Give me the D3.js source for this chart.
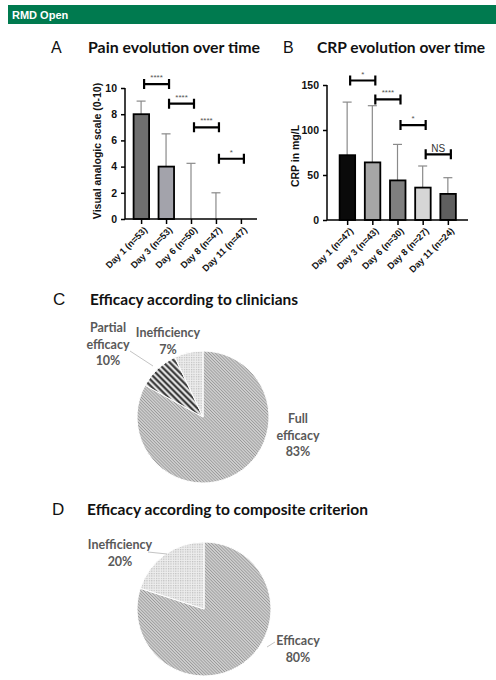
<!DOCTYPE html>
<html>
<head>
<meta charset="utf-8">
<script src="https://cdn.jsdelivr.net/npm/d3@7"></script>
<style>
  body { margin: 0; background: #fff; }
  .axis path, .axis line { stroke: #000; stroke-width: 1.5px; }
  .axis text { font-family: "Liberation Sans", Arial, sans-serif; font-weight: bold; fill: #111; }
</style>
</head>
<body>
<svg id="fig" width="496" height="680"></svg>
<script>
// ---- data ----
const painDays = ["Day 1 (n=53)", "Day 3 (n=53)", "Day 6 (n=50)", "Day 8 (n=47)", "Day 11 (n=47)"];
const painMedian = [8, 4, 0, 0, 0];
const painUpper = [9, 6.5, 4.25, 2, 0];
// brackets: from index, to index, height (VAS units), label
const painSig = [
    [0, 1, 10.3, "****"],
    [1, 2, 8.8, "****"],
    [2, 3, 7.0, "****"],
    [3, 4, 4.6, "*"]
];

const crpDays = ["Day 1 (n=47)", "Day 3 (n=43)", "Day 6 (n=30)", "Day 8 (n=27)", "Day 11 (n=24)"];
const crpMean = [72, 64, 44, 36, 29];
const crpUpper = [131, 127, 84, 60, 47];
const crpSig = [
    [0, 1, 155, "*"],
    [1, 2, 134, "****"],
    [2, 3, 105.5, "*"],
    [3, 4, 73, "NS"]
];

const clinLabels = ["Full efficacy", "Partial efficacy", "Inefficiency"];
const clinValues = [83, 10, 7];
const compLabels = ["Efficacy", "Inefficiency"];
const compValues = [80, 20];

// ---- styles ----
const painColors = ["#6e6e6e", "#a3a3ab", "#888", "#888", "#888"];
const crpColors = ["#0a0a0a", "#a6a6a6", "#7f7f7f", "#d6d6d6", "#5f5f5f"];

const svg = d3.select("#fig");
const titleFont = "Lato, 'Open Sans', sans-serif";
const axisFont = "'Liberation Sans', Arial, sans-serif";

// header band
svg.append("rect").attr("x", 8).attr("y", 5).attr("width", 488).attr("height", 19).attr("fill", "#007a4f");
svg.append("text").attr("x", 12).attr("y", 18.5)
    .attr("font-family", axisFont).attr("font-weight", "bold").attr("font-size", 11)
    .attr("fill", "#fff").text("RMD Open");

// patterns for the pies
const defs = svg.append("defs");
function linePattern(id, size, width, color, bg, angle) {
    const p = defs.append("pattern").attr("id", id)
        .attr("patternUnits", "userSpaceOnUse")
        .attr("width", size).attr("height", size)
        .attr("patternTransform", `rotate(${angle})`);
    p.append("rect").attr("width", size).attr("height", size).attr("fill", bg);
    p.append("line").attr("x1", size / 2).attr("x2", size / 2).attr("y1", 0).attr("y2", size)
        .attr("stroke", color).attr("stroke-width", width);
}
linePattern("fine", 2.2, 1.0, "#999", "#d9d9d9", -45);
linePattern("bold", 4.3, 2.0, "#2e2e2e", "#e6e6e6", -45);
const dots = defs.append("pattern").attr("id", "dots")
    .attr("patternUnits", "userSpaceOnUse").attr("width", 2.4).attr("height", 2.4);
dots.append("rect").attr("width", 2.4).attr("height", 2.4).attr("fill", "#ededed");
dots.append("rect").attr("width", 1.2).attr("height", 1.2).attr("fill", "#bdbdbd");

// panel titles
function panelTitle(letter, lx, tx, y, txt, size, len) {
    svg.append("text").attr("x", lx).attr("y", y)
        .attr("font-family", axisFont).attr("font-size", size + 1)
        .attr("fill", "#111").text(letter);
    svg.append("text").attr("x", tx).attr("y", y)
        .attr("font-family", titleFont).attr("font-weight", "bold").attr("font-size", size)
        .attr("fill", "#111")
        .attr("textLength", len).attr("lengthAdjust", "spacingAndGlyphs")
        .text(txt);
}
panelTitle("A", 51, 88, 53, "Pain evolution over time", 15, 172);
panelTitle("B", 283, 317, 53, "CRP evolution over time", 15, 168);
panelTitle("C", 53, 90, 305, "Efficacy according to clinicians", 16, 208);
panelTitle("D", 52, 87, 515, "Efficacy according to composite criterion", 16, 281);

// ---- bar charts ----
function barChart(cfg) {
    const x = d3.scalePoint().domain(cfg.days).range([cfg.x0, cfg.x1]).padding(cfg.pad);
    const y = d3.scaleLinear().domain([0, cfg.max]).range([cfg.y0, cfg.y1]);
    const g = svg.append("g");

    // error bars (upper only)
    cfg.days.forEach((d, i) => {
        if (cfg.upper[i] <= cfg.values[i]) return;
        g.append("line").attr("x1", x(d)).attr("x2", x(d))
            .attr("y1", y(cfg.values[i])).attr("y2", y(cfg.upper[i]))
            .attr("stroke", "#8a8a8a").attr("stroke-width", 1.2);
        g.append("line").attr("x1", x(d) - 4.5).attr("x2", x(d) + 4.5)
            .attr("y1", y(cfg.upper[i])).attr("y2", y(cfg.upper[i]))
            .attr("stroke", "#8a8a8a").attr("stroke-width", 1.2);
    });

    g.selectAll(".bar").data(cfg.days.filter((d, i) => cfg.values[i] > 0)).enter().append("rect")
        .attr("x", d => x(d) - 7.5)
        .attr("width", 15.5)
        .attr("y", d => y(cfg.values[cfg.days.indexOf(d)]))
        .attr("height", d => cfg.y0 - y(cfg.values[cfg.days.indexOf(d)]))
        .attr("fill", d => cfg.colors[cfg.days.indexOf(d)])
        .attr("stroke", "#000").attr("stroke-width", 1.8);

    const ya = g.append("g").attr("class", "axis")
        .attr("transform", `translate(${cfg.x0},0)`)
        .call(d3.axisLeft(y).tickValues(cfg.ticks).tickSize(4).tickSizeOuter(0));
    ya.selectAll("text").attr("font-size", 10.5).attr("dx", -1);
    ya.select(".domain").attr("d", `M0,${cfg.y0}V${cfg.y1}`);

    const xa = g.append("g").attr("class", "axis")
        .attr("transform", `translate(0,${cfg.y0})`)
        .call(d3.axisBottom(x).tickSize(5).tickSizeOuter(0));
    xa.select(".domain").attr("d", `M${cfg.x0},0H${cfg.x1}`);
    xa.selectAll("text")
        .attr("font-size", 9.2)
        .attr("text-anchor", "end")
        .attr("transform", "rotate(-45)")
        .attr("dx", "-0.4em").attr("dy", "0.5em");

    // y axis title
    g.append("text")
        .attr("transform", `translate(${cfg.labelX},${cfg.labelY}) rotate(-90)`)
        .attr("text-anchor", "middle")
        .attr("font-family", axisFont).attr("font-weight", "bold").attr("font-size", 10.5)
        .attr("fill", "#111").text(cfg.label);

    // significance brackets
    cfg.sig.forEach(([a, b, h, lab]) => {
        const xa1 = x(cfg.days[a]) + 3, xb1 = x(cfg.days[b]) + 3, yy = y(h);
        g.append("path")
            .attr("d", `M${xa1},${yy - 5}V${yy + 5}M${xa1},${yy}H${xb1}M${xb1},${yy - 5}V${yy + 5}`)
            .attr("stroke", "#000").attr("stroke-width", 2.2).attr("fill", "none");
        const ns = lab === "NS";
        g.append("text").attr("x", (xa1 + xb1) / 2).attr("y", ns ? yy - 2 : yy - 4)
            .attr("text-anchor", "middle")
            .attr("font-family", axisFont).attr("font-size", ns ? 10 : 8)
            .attr("fill", ns ? "#333" : "#555").text(lab);
    });
}

barChart({
    days: painDays, values: painMedian, upper: painUpper, sig: painSig, colors: painColors,
    max: 10, ticks: [0, 2, 4, 6, 8, 10],
    x0: 125, x1: 257, pad: 0.645, y0: 219, y1: 88,
    label: "Visual analogic scale (0-10)", labelX: 101, labelY: 151
});
barChart({
    days: crpDays, values: crpMean, upper: crpUpper, sig: crpSig, colors: crpColors,
    max: 150, ticks: [0, 50, 100, 150],
    x0: 327, x1: 468, pad: 0.8, y0: 220, y1: 85,
    label: "CRP in mg/L", labelX: 299, labelY: 156
});

// ---- pies ----
function pieChart(cfg) {
    const g = svg.append("g").attr("transform", `translate(${cfg.cx},${cfg.cy})`);
    const pie = d3.pie().sort(null).value(d => d)(cfg.values);
    const arc = d3.arc().innerRadius(0).outerRadius(cfg.r);
    g.selectAll("path").data(pie).enter().append("path")
        .attr("d", arc)
        .attr("fill", (d, i) => `url(#${cfg.fills[i]})`)
        .attr("stroke", "#fff").attr("stroke-width", 1);

    cfg.labels.forEach((lab, i) => {
        const [lx, ly] = cfg.labelPos[i];
        const lines = cfg.split[i] ? lab.split(" ") : [lab];
        lines.push(cfg.values[i] + "%");
        const t = g.append("text").attr("text-anchor", "middle")
            .attr("font-family", titleFont).attr("font-weight", "bold").attr("font-size", 12.5)
            .attr("fill", "#595959");
        lines.forEach((ln, k) => {
            t.append("tspan").attr("x", lx).attr("y", ly + k * 16.5).text(ln);
        });
    });
    cfg.leaders.forEach(l => {
        g.append("line").attr("x1", l[0]).attr("y1", l[1]).attr("x2", l[2]).attr("y2", l[3])
            .attr("stroke", "#c4c4c4").attr("stroke-width", 1);
    });
}

pieChart({
    cx: 203, cy: 417, r: 66, values: clinValues, labels: clinLabels,
    fills: ["fine", "bold", "dots"], split: [true, true, false],
    labelPos: [[95, 6], [-95, -85], [-35, -80]],
    leaders: [[-73, -66, -50, -51]]
});
pieChart({
    cx: 204, cy: 609, r: 67, values: compValues, labels: compLabels,
    fills: ["fine", "dots"], split: [false, false],
    labelPos: [[94, 36], [-84, -60]],
    leaders: [[-56, -57, -37, -55], [71, 33, 63, 38]]
});
</script>
</body>
</html>
